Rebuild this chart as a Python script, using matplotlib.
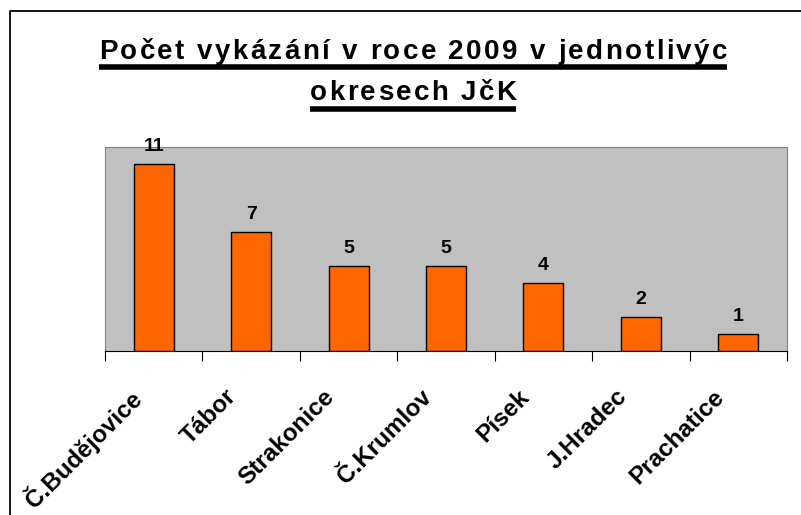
import matplotlib.pyplot as plt
from matplotlib.lines import Line2D
from matplotlib.font_manager import FontProperties

plt.rcParams['font.family'] = ['Liberation Sans', 'DejaVu Sans']

districts = ["Č.Budějovice", "Tábor", "Strakonice", "Č.Krumlov", "Písek", "J.Hradec", "Prachatice"]
counts = [11, 7, 5, 5, 4, 2, 1]
title_lines = ["Počet vykázání v roce 2009 v jednotlivýc", "okresech JčK"]

W, H = 801, 515
fig = plt.figure(figsize=(W / 100, H / 100), dpi=100)

# outer chart frame (only top and left edges fall inside the image)
fig.add_artist(Line2D([9.5 / W, 9.5 / W, 1.0], [0, 1 - 10.5 / H, 1 - 10.5 / H],
                      transform=fig.transFigure, color="black", linewidth=1.3))

ax = fig.add_axes([105 / W, 1 - 351 / H, 682 / W, 204 / H])
ax.set_facecolor("#c0c0c0")
x = list(range(len(counts)))
ax.bar(x, counts, width=0.41, color="#ff6600", edgecolor="black", linewidth=1)
ax.set_xlim(-0.5, len(counts) - 0.5)
ax.set_ylim(0, 12)
ax.set_yticks([])

for s in ["top", "right", "left"]:
    ax.spines[s].set_color("#808080")
ax.spines["bottom"].set_color("black")

ax.set_xticks([i - 0.5 for i in range(len(counts) + 1)])
ax.set_xticklabels([])
ax.tick_params(axis="x", length=7, direction="out", color="black")

for xi, name in zip(x, districts):
    ax.annotate(name, (xi, 0), xycoords=("data", "axes fraction"),
                xytext=(-26, -34), textcoords="offset pixels",
                rotation=45, rotation_mode="anchor", ha="right", va="top",
                fontsize=17.5, fontweight="bold")

for xi, v in zip(x, counts):
    ax.annotate(str(v), (xi, v), xytext=(0, 13), textcoords="offset pixels",
                ha="center", va="baseline", fontsize=14, fontweight="bold")

# title: letter-spaced and underlined, drawn one character at a time
fig.canvas.draw()
renderer = fig.canvas.get_renderer()
prop = FontProperties(family="Liberation Sans", weight="bold", size=20)


def text_width(s):
    # width of s measured with a guard glyph so spaces count
    w, _, _ = renderer.get_text_width_height_descent("|" + s + "|", prop, ismath=False)
    w0, _, _ = renderer.get_text_width_height_descent("||", prop, ismath=False)
    return w - w0


spacing = 2.4
baselines = [59, 100]
cx = 413
for line, base in zip(title_lines, baselines):
    total = text_width(line) + spacing * (len(line) - 1)
    x0 = cx - total / 2
    for i, ch in enumerate(line):
        if ch == " ":
            continue
        px = x0 + text_width(line[:i]) + spacing * i
        fig.text(px / W, 1 - base / H, ch, fontproperties=prop,
                 ha="left", va="baseline")
    uy = 1 - (base + 8.5) / H
    fig.add_artist(Line2D([x0 / W, (x0 + total) / W], [uy, uy], transform=fig.transFigure,
                          color="black", linewidth=4, solid_capstyle="butt"))

fig.savefig("out.png", dpi=100)
